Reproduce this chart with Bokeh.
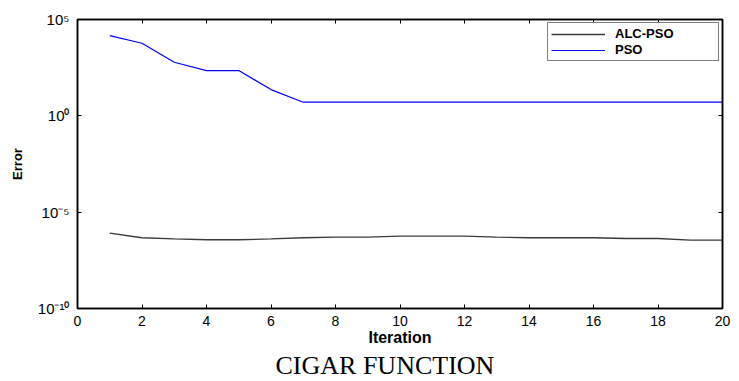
from bokeh.plotting import figure
from bokeh.models import (Range1d, LogAxis, LinearAxis, FixedTicker, CustomJSTickFormatter,
                          Legend, LegendItem, Title)
from bokeh.embed import file_html
from bokeh.resources import INLINE

# ---- data ----
iterations = list(range(1, 21))
pso = [14600, 5860, 603, 224, 224, 23, 5.1, 5.1, 5.1, 5.1,
       5.1, 5.1, 5.1, 5.1, 5.1, 5.1, 5.1, 5.1, 5.1, 5.1]
alc_pso = [8.1e-7, 4.7e-7, 4.1e-7, 3.7e-7, 3.7e-7, 4.1e-7, 4.7e-7, 5.1e-7, 5.1e-7, 5.7e-7,
           5.7e-7, 5.7e-7, 5.1e-7, 4.7e-7, 4.7e-7, 4.7e-7, 4.3e-7, 4.3e-7, 3.5e-7, 3.5e-7]
series_names = ["ALC-PSO", "PSO"]
xticks = list(range(0, 21, 2))
yticks = [1e-10, 1e-5, 1e0, 1e5]
ytick_labels = ["10\u207b\u00b9\u2070", "10\u207b\u2075", "10\u2070", "10\u2075"]
title_text = "CIGAR FUNCTION"
x_label = "Iteration"
y_label = "Error"

SANS = "Liberation Sans"
SERIF = "Liberation Serif"

p = figure(width=739, height=381, y_axis_type="log",
           x_range=Range1d(0, 20), y_range=Range1d(1e-10, 1e5),
           output_backend="svg", toolbar_location=None,
           min_border_left=77, min_border_right=17, min_border_top=19, min_border_bottom=73)
p.background_fill_color = "white"
p.border_fill_color = "white"
p.outline_line_color = "black"
p.outline_line_width = 1.5
p.xgrid.visible = False
p.ygrid.visible = False

r_alc = p.line(iterations, alc_pso, line_color="#3a3a3a", line_width=1.3)
r_pso = p.line(iterations, pso, line_color="#0000ff", line_width=1.2)

def style_axis(ax):
    ax.axis_line_color = "black"
    ax.axis_line_width = 1.5
    ax.major_tick_in = 4
    ax.major_tick_out = 0
    ax.major_tick_line_color = "black"
    ax.minor_tick_line_color = None
    ax.major_label_text_color = "black"
    ax.axis_label_text_color = "black"

# bottom axis
xa = p.xaxis[0]
xa.ticker = FixedTicker(ticks=xticks)
style_axis(xa)
xa.major_label_text_font = SANS
xa.major_label_text_font_size = "14px"
xa.major_label_standoff = 7
xa.axis_label = x_label
xa.axis_label_text_font = SANS
xa.axis_label_text_font_size = "16px"
xa.axis_label_text_font_style = "bold"
xa.axis_label_standoff = 0

# left axis
ya = p.yaxis[0]
ya.ticker = FixedTicker(ticks=yticks)
style_axis(ya)
ya.formatter = CustomJSTickFormatter(
    args=dict(vals=yticks, labs=ytick_labels),
    code="""
    for (let i = 0; i < vals.length; i++) {
        if (Math.abs(Math.log10(tick) - Math.log10(vals[i])) < 1e-6) return labs[i];
    }
    return '';
    """)
ya.major_label_text_font = SANS
ya.major_label_text_font_size = "15px"
ya.major_label_standoff = 8
ya.axis_label = y_label
ya.axis_label_text_font = SANS
ya.axis_label_text_font_size = "13px"
ya.axis_label_text_font_style = "bold"
ya.axis_label_standoff = 10

# mirrored axes (ticks only)
ta = LinearAxis(ticker=FixedTicker(ticks=xticks), formatter=CustomJSTickFormatter(code="return '';"),
                major_label_standoff=0)
style_axis(ta)
p.add_layout(ta, "above")
ra = LogAxis(ticker=FixedTicker(ticks=yticks), formatter=CustomJSTickFormatter(code="return '';"),
             major_label_standoff=0)
style_axis(ra)
p.add_layout(ra, "right")

legend = Legend(items=[LegendItem(label=series_names[0], renderers=[r_alc]),
                       LegendItem(label=series_names[1], renderers=[r_pso])],
                location="top_right", orientation="vertical",
                label_text_font=SANS, label_text_font_size="13px", label_text_font_style="bold",
                label_text_color="black",
                glyph_width=54, glyph_height=14, label_height=14, label_width=100,
                label_standoff=10, spacing=1, padding=3, margin=3,
                border_line_color="black", border_line_width=1,
                background_fill_color="white", background_fill_alpha=1)
p.add_layout(legend)

t = Title(text=title_text, align="left", text_font=SERIF, text_font_size="26px",
          text_font_style="normal", text_color="black", standoff=0, offset=198)
p.add_layout(t, "below")

open("out.html", "w").write(file_html(p, INLINE))
